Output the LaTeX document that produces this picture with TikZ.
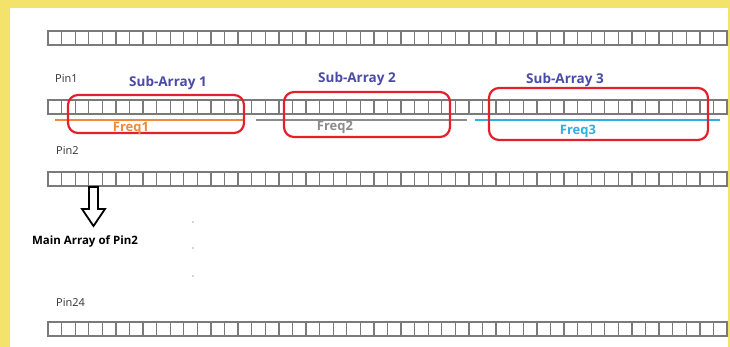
\documentclass[tikz,border=0pt]{standalone}
\usepackage{fontspec}
\setmainfont{Open Sans}
\usetikzlibrary{shapes.arrows}
\definecolor{bgyellow}{HTML}{F4E36A}
\definecolor{cellgray}{HTML}{7A7A7A}
\definecolor{subblue}{HTML}{4A4AA8}
\definecolor{redbox}{HTML}{E3202B}
\definecolor{freqorange}{HTML}{F08A3A}
\definecolor{freqgray}{HTML}{8C8C8C}
\definecolor{freqblue}{HTML}{30B0E0}
\tikzset{
  cellrow/.style={draw=cellgray, line width=1.3pt},
  pinlabel/.style={font=\fontsize{11}{12}\selectfont, text=black!80, inner sep=0pt},
  sublabel/.style={font=\fontsize{13.5}{15}\selectfont\bfseries, text=subblue, inner sep=0pt},
  subbox/.style={draw=redbox, line width=2.2pt, rounded corners=10pt},
  freqlabel/.style={font=\fontsize{13}{14}\selectfont\bfseries, inner sep=0pt},
  freqline/.style={line width=2.6pt},
  dotmark/.style={circle, fill=black!70, inner sep=0pt, minimum size=1.4pt},
}
\begin{document}
\begin{tikzpicture}[x=1pt,y=-1pt]
\useasboundingbox (0,0) rectangle (730,347);
\fill[bgyellow] (0,0) rectangle (730,347);
\fill[white] (10,8) rectangle (728,347);
% cell rows
\foreach \y/\n in {31/r0,100/r1,172/r2,322/r24}{
  \foreach \i in {0,...,49}{
    \draw[cellrow] ({48+\i*13.58},\y) rectangle ({48+(\i+1)*13.58},\y+14);
  }
  \coordinate (\n) at (48,\y);
}
% pin labels
\node[pinlabel, anchor=west] (pin1) at (55,78) {Pin1};
\node[pinlabel, anchor=west] (pin2) at (56,150) {Pin2};
\node[pinlabel, anchor=west] (pin24) at (56,302) {Pin24};
% freq lines
\draw[freqline, freqorange] (55,120) -- (244,120);
\draw[freqline, freqgray] (256,120) -- (467,120);
\draw[freqline, freqblue] (475,120) -- (720,120);
% sub-array boxes
\node[subbox, minimum width=176pt, minimum height=38pt] (sa1) at (156,114) {};
\node[subbox, minimum width=166pt, minimum height=45pt] (sa2) at (367,114.5) {};
\node[subbox, minimum width=219pt, minimum height=52pt] (sa3) at (598.5,114) {};
\node[sublabel] (t1) at (168,83) {Sub-Array 1};
\node[sublabel] (t2) at (357,79) {Sub-Array 2};
\node[sublabel] (t3) at (565,80) {Sub-Array 3};
\node[freqlabel, text=freqorange] (f1) at (131,128) {Freq1};
\node[freqlabel, text=freqgray] (f2) at (335,127) {Freq2};
\node[freqlabel, text=freqblue] (f3) at (578,131) {Freq3};
% hollow arrow
\draw[line width=1.8pt, black, line join=miter]
  (89,187) -- (98,187) -- (98,209) -- (105,209) -- (93.5,226) -- (82,209) -- (89,209) -- cycle;
\node[font=\fontsize{11.5}{13}\selectfont\bfseries, inner sep=0pt] (main) at (85,241) {Main Array of Pin2};
% dots
\node[dotmark] (d1) at (193,222) {};
\node[dotmark] (d2) at (193,248) {};
\node[dotmark] (d3) at (193,276) {};
\end{tikzpicture}
\end{document}
